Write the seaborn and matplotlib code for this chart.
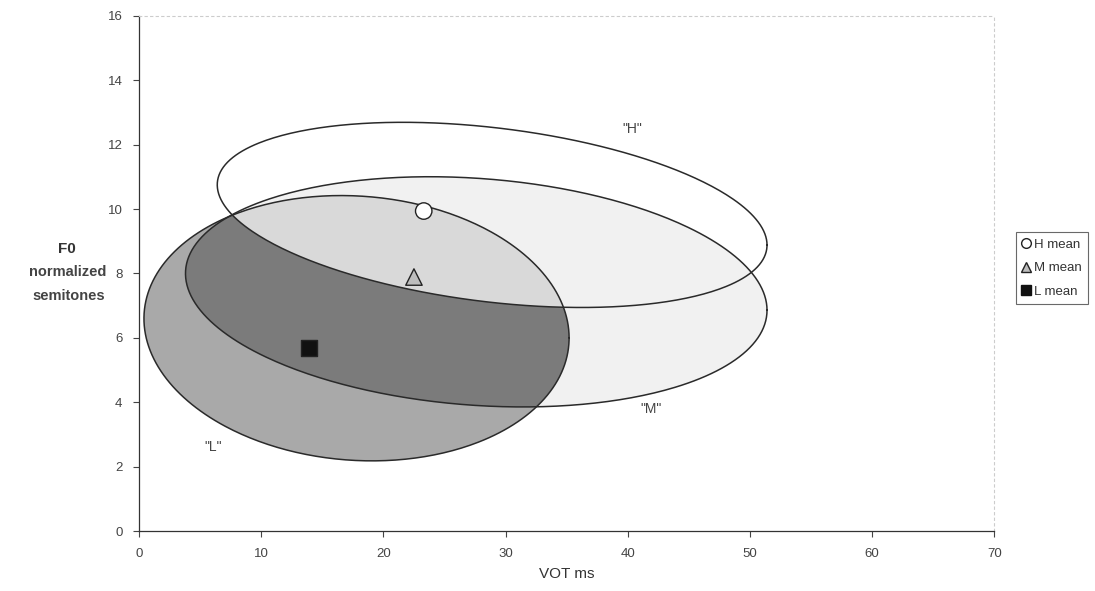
import numpy as np
import pandas as pd
import matplotlib
matplotlib.use("Agg")
import matplotlib.pyplot as plt
from matplotlib.patches import Polygon
from matplotlib.lines import Line2D
import seaborn as sns

# ---- data ----
ell_names = ["H", "M", "L"]
ell_cx = [28.9, 27.6, 17.8]
ell_cy = [9.82, 7.43, 6.3]
ell_a = [22.5, 23.8, 17.4]
ell_p = [-0.935, -0.57, -0.3]
ell_q = [2.72, 3.53, 4.11]

mean_labels = ["H mean", "M mean", "L mean"]
mean_x = [23.3, 22.5, 13.9]
mean_y = [9.94, 7.89, 5.68]

lab_text = ['"H"', '"M"', '"L"']
lab_x = [40.4, 41.9, 6.1]
lab_y = [12.5, 3.8, 2.6]

x_ticks = [0, 10, 20, 30, 40, 50, 60, 70]
y_ticks = [0, 2, 4, 6, 8, 10, 12, 14, 16]

sns.set_theme(style="white")
plt.rcParams['font.family'] = ['Liberation Sans', 'DejaVu Sans']

fig = plt.figure(figsize=(10.95, 5.91), dpi=100)
ax = fig.add_axes([0.127, 0.1015, 0.781, 0.8715])

t = np.linspace(0, 2 * np.pi, 400)
shapes = {}
for n, cx, cy, a, p, q in zip(ell_names, ell_cx, ell_cy, ell_a, ell_p, ell_q):
    shapes[n] = np.column_stack([cx + a * np.cos(t), cy + p * np.cos(t) + q * np.sin(t)])

H, M, L = shapes["H"], shapes["M"], shapes["L"]

# M light fill
ax.fill(M[:, 0], M[:, 1], color="#f1f1f1", lw=0, zorder=1)
# L medium fill
ax.fill(L[:, 0], L[:, 1], color="#a9a9a9", lw=0, zorder=2)
# L ∩ M dark
Lclip = Polygon(L, closed=True, transform=ax.transData)
pm = ax.fill(M[:, 0], M[:, 1], color="#7b7b7b", lw=0, zorder=3)[0]
pm.set_clip_path(Lclip)
# L ∩ H light
Lclip2 = Polygon(L, closed=True, transform=ax.transData)
ph = ax.fill(H[:, 0], H[:, 1], color="#d9d9d9", lw=0, zorder=4)[0]
ph.set_clip_path(Lclip2)

for n in ell_names:
    s = shapes[n]
    ax.plot(s[:, 0], s[:, 1], color="#2a2a2a", lw=1.1, zorder=5)

for tx, x, y in zip(lab_text, lab_x, lab_y):
    ax.text(x, y, tx, fontsize=10, color="#444444", ha="center", va="center", zorder=6)

df = pd.DataFrame({"x": mean_x, "y": mean_y, "label": mean_labels})
sns.scatterplot(data=df, x="x", y="y", hue="label", style="label",
                markers={"H mean": "o", "M mean": "^", "L mean": "s"},
                palette={"H mean": "white", "M mean": "#bdbdbd", "L mean": "#111111"},
                s=140, edgecolor="#222222", linewidth=1.0, ax=ax, zorder=7, legend=False)

ax.set_xlim(0, 70)
ax.set_ylim(0, 16)
ax.set_xticks(x_ticks)
ax.set_yticks(y_ticks)
ax.tick_params(axis="both", labelsize=9.5, colors="#444444", length=4, width=0.8,
               direction="out", bottom=True, left=True, pad=8)
for side in ["left", "bottom"]:
    ax.spines[side].set_color("#333333")
    ax.spines[side].set_linewidth(0.9)
for side in ["top", "right"]:
    ax.spines[side].set_color("#cccccc")
    ax.spines[side].set_linestyle((0, (2, 3)))
    ax.spines[side].set_linewidth(0.8)

ax.set_xlabel("VOT ms", fontsize=11, color="#333333", labelpad=5)
ax.set_ylabel("")
fig.text(0.061, 1 - 249 / 591, "F0", fontsize=11, fontweight="bold", color="#333333", ha="center", va="center")
fig.text(0.062, 1 - 272 / 591, "normalized", fontsize=10.5, fontweight="bold", color="#444444", ha="center", va="center")
fig.text(0.063, 1 - 296 / 591, "semitones", fontsize=10.5, fontweight="bold", color="#444444", ha="center", va="center")

handles = [
    Line2D([], [], marker="o", linestyle="", markerfacecolor="white", markeredgecolor="#222222", markersize=7),
    Line2D([], [], marker="^", linestyle="", markerfacecolor="#bdbdbd", markeredgecolor="#222222", markersize=7),
    Line2D([], [], marker="s", linestyle="", markerfacecolor="#111111", markeredgecolor="#111111", markersize=7),
]
leg = fig.legend(handles, mean_labels, loc="center left", bbox_to_anchor=(0.922, 1 - 268 / 591),
                 fontsize=9.5, frameon=True, fancybox=False, handlelength=0.6,
                 handletextpad=0.3, borderpad=0.45, labelspacing=0.85)
leg.get_frame().set_edgecolor("#444444")
leg.get_frame().set_linewidth(0.8)
for txt in leg.get_texts():
    txt.set_color("#333333")

fig.savefig("out.png", dpi=100)
